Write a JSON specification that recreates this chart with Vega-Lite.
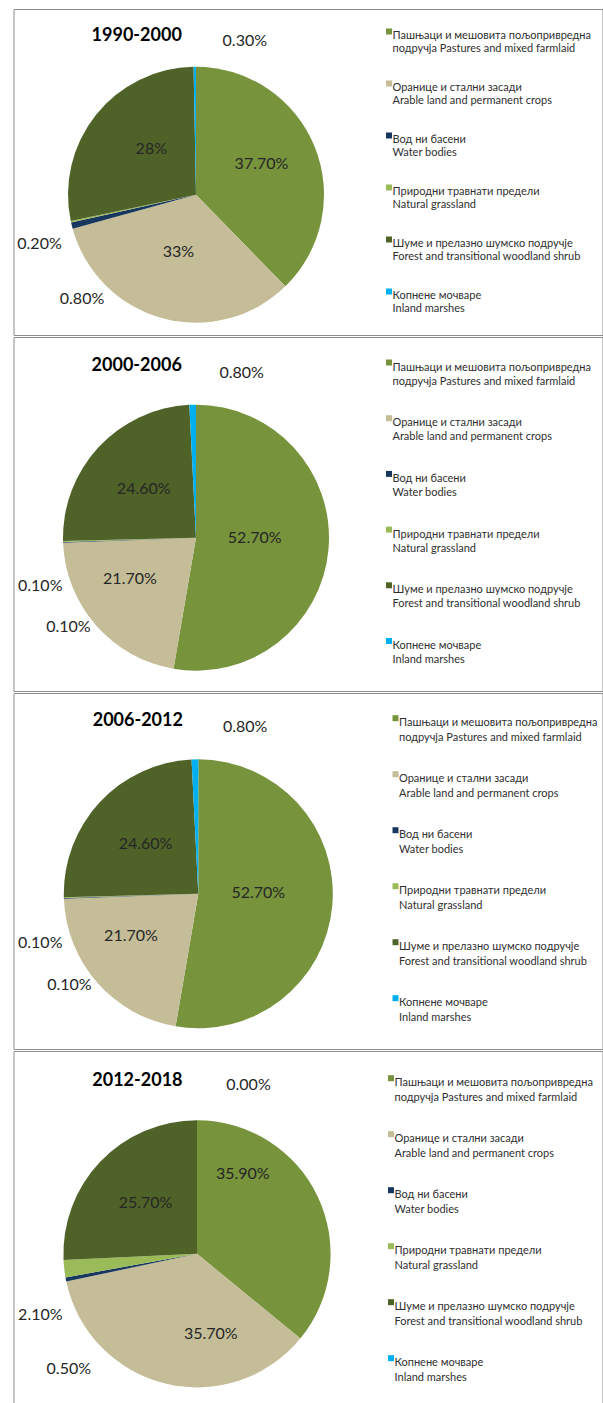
{
  "$schema": "https://vega.github.io/schema/vega-lite/v6.json",
  "background": "white",
  "padding": {"left": 12.5, "top": 8, "right": 0, "bottom": 0},
  "bounds": "flush",
  "spacing": 2,
  "config": {
    "view": {"stroke": "#8d8d8d", "strokeWidth": 1},
    "style": {"cell": {"stroke": "#8d8d8d", "strokeWidth": 1}},
    "font": "Lato, 'Open Sans', sans-serif",
    "title": {"fontSize": 18, "fontWeight": "bold", "color": "#000000", "anchor": "start", "baseline": "alphabetic", "orient": "top", "frame": "group"},
    "legend": {"orient": "none", "symbolType": "square", "symbolSize": 36, "symbolStrokeWidth": 0, "labelFontSize": 11, "labelColor": "#303030", "labelLimit": 0, "padding": 0, "labelOffset": -2},
    "text": {"fontSize": 16, "color": "#262626"}
  },
  "data": {"values": [
    {"period": "1990-2000", "key": "past", "ord": 1, "value": 37.7, "label": "37.70%", "name": "Пашњаци и мешовита пољопривредна|подручја Pastures and mixed farmlaid"},
    {"period": "1990-2000", "key": "arab", "ord": 2, "value": 33, "label": "33%", "name": "Оранице и стални засади|\u00a0Arable land and permanent crops"},
    {"period": "1990-2000", "key": "water", "ord": 3, "value": 0.8, "label": "0.80%", "name": "Вод ни басени|\u00a0Water bodies"},
    {"period": "1990-2000", "key": "nat", "ord": 4, "value": 0.2, "label": "0.20%", "name": "Природни травнати предели|Natural grassland"},
    {"period": "1990-2000", "key": "forest", "ord": 5, "value": 28, "label": "28%", "name": "Шуме и прелазно шумско подручје|\u00a0Forest and transitional woodland shrub"},
    {"period": "1990-2000", "key": "marsh", "ord": 6, "value": 0.3, "label": "0.30%", "name": "Копнене мочваре|Inland marshes"},
    {"period": "2000-2006", "key": "past", "ord": 1, "value": 52.7, "label": "52.70%", "name": "Пашњаци и мешовита пољопривредна|подручја Pastures and mixed farmlaid"},
    {"period": "2000-2006", "key": "arab", "ord": 2, "value": 21.7, "label": "21.70%", "name": "Оранице и стални засади|\u00a0Arable land and permanent crops"},
    {"period": "2000-2006", "key": "water", "ord": 3, "value": 0.1, "label": "0.10%", "name": "Вод ни басени|\u00a0Water bodies"},
    {"period": "2000-2006", "key": "nat", "ord": 4, "value": 0.1, "label": "0.10%", "name": "Природни травнати предели|Natural grassland"},
    {"period": "2000-2006", "key": "forest", "ord": 5, "value": 24.6, "label": "24.60%", "name": "Шуме и прелазно шумско подручје|\u00a0Forest and transitional woodland shrub"},
    {"period": "2000-2006", "key": "marsh", "ord": 6, "value": 0.8, "label": "0.80%", "name": "Копнене мочваре|Inland marshes"},
    {"period": "2006-2012", "key": "past", "ord": 1, "value": 52.7, "label": "52.70%", "name": "Пашњаци и мешовита пољопривредна|подручја Pastures and mixed farmlaid"},
    {"period": "2006-2012", "key": "arab", "ord": 2, "value": 21.7, "label": "21.70%", "name": "Оранице и стални засади|\u00a0Arable land and permanent crops"},
    {"period": "2006-2012", "key": "water", "ord": 3, "value": 0.1, "label": "0.10%", "name": "Вод ни басени|\u00a0Water bodies"},
    {"period": "2006-2012", "key": "nat", "ord": 4, "value": 0.1, "label": "0.10%", "name": "Природни травнати предели|Natural grassland"},
    {"period": "2006-2012", "key": "forest", "ord": 5, "value": 24.6, "label": "24.60%", "name": "Шуме и прелазно шумско подручје|\u00a0Forest and transitional woodland shrub"},
    {"period": "2006-2012", "key": "marsh", "ord": 6, "value": 0.8, "label": "0.80%", "name": "Копнене мочваре|Inland marshes"},
    {"period": "2012-2018", "key": "past", "ord": 1, "value": 35.9, "label": "35.90%", "name": "Пашњаци и мешовита пољопривредна|подручја Pastures and mixed farmlaid"},
    {"period": "2012-2018", "key": "arab", "ord": 2, "value": 35.7, "label": "35.70%", "name": "Оранице и стални засади|\u00a0Arable land and permanent crops"},
    {"period": "2012-2018", "key": "water", "ord": 3, "value": 0.5, "label": "0.50%", "name": "Вод ни басени|\u00a0Water bodies"},
    {"period": "2012-2018", "key": "nat", "ord": 4, "value": 2.1, "label": "2.10%", "name": "Природни травнати предели|Natural grassland"},
    {"period": "2012-2018", "key": "forest", "ord": 5, "value": 25.7, "label": "25.70%", "name": "Шуме и прелазно шумско подручје|\u00a0Forest and transitional woodland shrub"},
    {"period": "2012-2018", "key": "marsh", "ord": 6, "value": 0.0, "label": "0.00%", "name": "Копнене мочваре|Inland marshes"}
  ]},
  "resolve": {"scale": {"color": "independent", "theta": "independent"}, "legend": {"color": "independent"}},
  "vconcat": [
    {
      "width": 589, "height": 326,
      "view": {"stroke": "#8d8d8d", "strokeWidth": 1},
      "title": {"text": "1990-2000", "dx": 78.1, "offset": -36.3},
      "transform": [{"filter": "datum.period === '1990-2000'"}],
      "encoding": {"theta": {"field": "value", "type": "quantitative", "stack": true}, "order": {"field": "ord", "type": "quantitative"}},
      "layer": [
        {"mark": {"type": "arc", "x": 182.5, "y": 185.7, "radius": 128},
         "encoding": {"color": {"field": "name", "type": "nominal",
           "scale": {"domain": ["Пашњаци и мешовита пољопривредна|подручја Pastures and mixed farmlaid", "Оранице и стални засади|\u00a0Arable land and permanent crops", "Вод ни басени|\u00a0Water bodies", "Природни травнати предели|Natural grassland", "Шуме и прелазно шумско подручје|\u00a0Forest and transitional woodland shrub", "Копнене мочваре|Inland marshes"], "range": ["#77933C", "#C4BD97", "#17375E", "#9BBB59", "#4F6228", "#00B0F0"]},
           "legend": {"title": null, "legendX": 370, "legendY": 17, "rowPadding": 23, "labelOffset": -2, "labelExpr": "split(datum.label, '|')", "encode": {"labels": {"update": {"dy": {"value": 4.6}, "lineHeight": {"value": 13.3}}}}}}}},
        {"mark": {"type": "text", "x": 182.5, "y": 185.7, "radius": 72.3, "dx": -1.5, "dy": -3.5}, "encoding": {"text": {"condition": {"test": "datum.key === 'past'", "field": "label"}, "value": ""}}},
        {"mark": {"type": "text", "x": 182.5, "y": 185.7, "radius": 59.6, "dx": -2, "dy": -0.5}, "encoding": {"text": {"condition": {"test": "datum.key === 'arab'", "field": "label"}, "value": ""}}},
        {"mark": {"type": "text", "x": 182.5, "y": 185.7, "radius": 63.9, "dx": 5.3, "dy": -5.9}, "encoding": {"text": {"condition": {"test": "datum.key === 'forest'", "field": "label"}, "value": ""}}},
        {"mark": {"type": "text", "x": 182.5, "y": 185.7, "radius": 128, "dx": 50, "dy": -26}, "encoding": {"text": {"condition": {"test": "datum.key === 'marsh'", "field": "label"}, "value": ""}}},
        {"mark": {"type": "text", "x": 182.5, "y": 185.7, "radius": 128, "dx": -31.4, "dy": 22.4}, "encoding": {"text": {"condition": {"test": "datum.key === 'nat'", "field": "label"}, "value": ""}}},
        {"mark": {"type": "text", "x": 182.5, "y": 185.7, "radius": 128, "dx": 10.2, "dy": 72.9}, "encoding": {"text": {"condition": {"test": "datum.key === 'water'", "field": "label"}, "value": ""}}}
      ]
    },
    {
      "width": 589, "height": 354,
      "view": {"stroke": "#8d8d8d", "strokeWidth": 1},
      "title": {"text": "2000-2006", "dx": 78.1, "offset": -38},
      "transform": [{"filter": "datum.period === '2000-2006'"}],
      "encoding": {"theta": {"field": "value", "type": "quantitative", "stack": true}, "order": {"field": "ord", "type": "quantitative"}},
      "layer": [
        {"mark": {"type": "arc", "x": 182.5, "y": 200.7, "radius": 133},
         "encoding": {"color": {"field": "name", "type": "nominal",
           "scale": {"domain": ["Пашњаци и мешовита пољопривредна|подручја Pastures and mixed farmlaid", "Оранице и стални засади|\u00a0Arable land and permanent crops", "Вод ни басени|\u00a0Water bodies", "Природни травнати предели|Natural grassland", "Шуме и прелазно шумско подручје|\u00a0Forest and transitional woodland shrub", "Копнене мочваре|Inland marshes"], "range": ["#77933C", "#C4BD97", "#17375E", "#9BBB59", "#4F6228", "#00B0F0"]},
           "legend": {"title": null, "legendX": 370, "legendY": 20, "rowPadding": 25.7, "labelOffset": -2, "labelExpr": "split(datum.label, '|')", "encode": {"labels": {"update": {"dy": {"value": 5}, "lineHeight": {"value": 14}}}}}}}},
        {"mark": {"type": "text", "x": 182.5, "y": 200.7, "radius": 58.7, "dx": 0.2, "dy": -5}, "encoding": {"text": {"condition": {"test": "datum.key === 'past'", "field": "label"}, "value": ""}}},
        {"mark": {"type": "text", "x": 182.5, "y": 200.7, "radius": 78.1, "dx": -7.3, "dy": -9.8}, "encoding": {"text": {"condition": {"test": "datum.key === 'arab'", "field": "label"}, "value": ""}}},
        {"mark": {"type": "text", "x": 182.5, "y": 200.7, "radius": 71.3, "dx": 0, "dy": 0}, "encoding": {"text": {"condition": {"test": "datum.key === 'forest'", "field": "label"}, "value": ""}}},
        {"mark": {"type": "text", "x": 182.5, "y": 200.7, "radius": 133, "dx": 49, "dy": -32}, "encoding": {"text": {"condition": {"test": "datum.key === 'marsh'", "field": "label"}, "value": ""}}},
        {"mark": {"type": "text", "x": 182.5, "y": 200.7, "radius": 133, "dx": -22.8, "dy": 44.5}, "encoding": {"text": {"condition": {"test": "datum.key === 'nat'", "field": "label"}, "value": ""}}},
        {"mark": {"type": "text", "x": 182.5, "y": 200.7, "radius": 133, "dx": 5.3, "dy": 84.7}, "encoding": {"text": {"condition": {"test": "datum.key === 'water'", "field": "label"}, "value": ""}}}
      ]
    },
    {
      "width": 589, "height": 356,
      "view": {"stroke": "#8d8d8d", "strokeWidth": 1},
      "title": {"text": "2006-2012", "dx": 79.2, "offset": -37.3},
      "transform": [{"filter": "datum.period === '2006-2012'"}],
      "encoding": {"theta": {"field": "value", "type": "quantitative", "stack": true}, "order": {"field": "ord", "type": "quantitative"}},
      "layer": [
        {"mark": {"type": "arc", "x": 184.8, "y": 200.8, "radius": 134.5},
         "encoding": {"color": {"field": "name", "type": "nominal",
           "scale": {"domain": ["Пашњаци и мешовита пољопривредна|подручја Pastures and mixed farmlaid", "Оранице и стални засади|\u00a0Arable land and permanent crops", "Вод ни басени|\u00a0Water bodies", "Природни травнати предели|Natural grassland", "Шуме и прелазно шумско подручје|\u00a0Forest and transitional woodland shrub", "Копнене мочваре|Inland marshes"], "range": ["#77933C", "#C4BD97", "#17375E", "#9BBB59", "#4F6228", "#00B0F0"]},
           "legend": {"title": null, "legendX": 376.5, "legendY": 19.7, "rowPadding": 26, "labelOffset": -2, "labelExpr": "split(datum.label, '|')", "encode": {"labels": {"update": {"dy": {"value": 5.2}, "lineHeight": {"value": 14.3}}}}}}}},
        {"mark": {"type": "text", "x": 184.8, "y": 200.8, "radius": 60, "dx": 0.2, "dy": -5.6}, "encoding": {"text": {"condition": {"test": "datum.key === 'past'", "field": "label"}, "value": ""}}},
        {"mark": {"type": "text", "x": 184.8, "y": 200.8, "radius": 79.4, "dx": -7.6, "dy": -10.1}, "encoding": {"text": {"condition": {"test": "datum.key === 'arab'", "field": "label"}, "value": ""}}},
        {"mark": {"type": "text", "x": 184.8, "y": 200.8, "radius": 72.4, "dx": 0.3, "dy": -0.3}, "encoding": {"text": {"condition": {"test": "datum.key === 'forest'", "field": "label"}, "value": ""}}},
        {"mark": {"type": "text", "x": 184.8, "y": 200.8, "radius": 134.5, "dx": 50.3, "dy": -32.5}, "encoding": {"text": {"condition": {"test": "datum.key === 'marsh'", "field": "label"}, "value": ""}}},
        {"mark": {"type": "text", "x": 184.8, "y": 200.8, "radius": 134.5, "dx": -23.6, "dy": 45.2}, "encoding": {"text": {"condition": {"test": "datum.key === 'nat'", "field": "label"}, "value": ""}}},
        {"mark": {"type": "text", "x": 184.8, "y": 200.8, "radius": 134.5, "dx": 5.5, "dy": 86.6}, "encoding": {"text": {"condition": {"test": "datum.key === 'water'", "field": "label"}, "value": ""}}}
      ]
    },
    {
      "width": 589, "height": 356,
      "view": {"stroke": "#8d8d8d", "strokeWidth": 1},
      "title": {"text": "2012-2018", "dx": 78.8, "offset": -39.3},
      "transform": [{"filter": "datum.period === '2012-2018'"}],
      "encoding": {"theta": {"field": "value", "type": "quantitative", "stack": true}, "order": {"field": "ord", "type": "quantitative"}},
      "layer": [
        {"mark": {"type": "arc", "x": 183.5, "y": 202.8, "radius": 133.6},
         "encoding": {"color": {"field": "name", "type": "nominal",
           "scale": {"domain": ["Пашњаци и мешовита пољопривредна|подручја Pastures and mixed farmlaid", "Оранице и стални засади|\u00a0Arable land and permanent crops", "Вод ни басени|\u00a0Water bodies", "Природни травнати предели|Natural grassland", "Шуме и прелазно шумско подручје|\u00a0Forest and transitional woodland shrub", "Копнене мочваре|Inland marshes"], "range": ["#77933C", "#C4BD97", "#17375E", "#9BBB59", "#4F6228", "#00B0F0"]},
           "legend": {"title": null, "legendX": 372, "legendY": 21.7, "rowPadding": 26, "labelOffset": -2, "labelExpr": "split(datum.label, '|')", "encode": {"labels": {"update": {"dy": {"value": 5.2}, "lineHeight": {"value": 14.3}}}}}}}},
        {"mark": {"type": "text", "x": 183.5, "y": 202.8, "radius": 91.7, "dx": -37.1, "dy": -40.3}, "encoding": {"text": {"condition": {"test": "datum.key === 'past'", "field": "label"}, "value": ""}}},
        {"mark": {"type": "text", "x": 183.5, "y": 202.8, "radius": 81.7, "dx": 33.1, "dy": 1.1}, "encoding": {"text": {"condition": {"test": "datum.key === 'arab'", "field": "label"}, "value": ""}}},
        {"mark": {"type": "text", "x": 183.5, "y": 202.8, "radius": 72.1, "dx": 0.7, "dy": -0.7}, "encoding": {"text": {"condition": {"test": "datum.key === 'forest'", "field": "label"}, "value": ""}}},
        {"mark": {"type": "text", "x": 183.5, "y": 202.8, "radius": 133.6, "dx": 51.5, "dy": -34.9}, "encoding": {"text": {"condition": {"test": "datum.key === 'marsh'", "field": "label"}, "value": ""}}},
        {"mark": {"type": "text", "x": 183.5, "y": 202.8, "radius": 133.6, "dx": -23.9, "dy": 46.3}, "encoding": {"text": {"condition": {"test": "datum.key === 'nat'", "field": "label"}, "value": ""}}},
        {"mark": {"type": "text", "x": 183.5, "y": 202.8, "radius": 133.6, "dx": 2.9, "dy": 89.8}, "encoding": {"text": {"condition": {"test": "datum.key === 'water'", "field": "label"}, "value": ""}}}
      ]
    }
  ]
}
